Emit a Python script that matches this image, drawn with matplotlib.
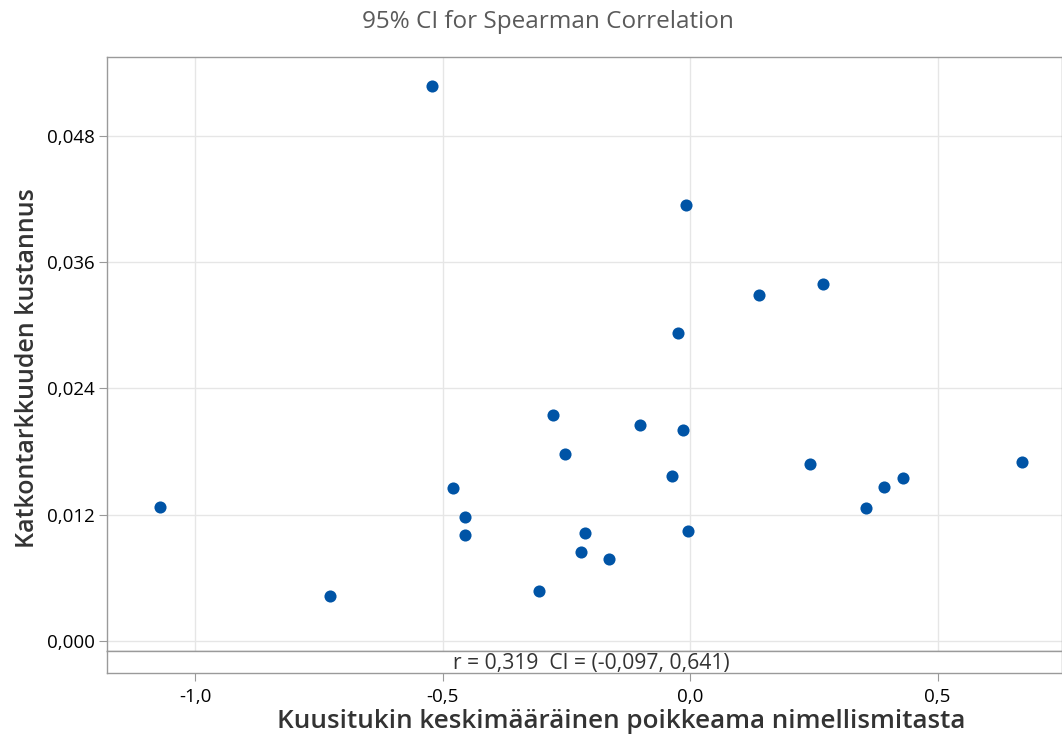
import numpy as np
import matplotlib
matplotlib.use('Agg')
import matplotlib.pyplot as plt
from matplotlib.ticker import FuncFormatter
from matplotlib.transforms import blended_transform_factory

plt.rcParams['font.family'] = ['Open Sans', 'DejaVu Sans']

# poikkeama (x) ja kustannus (y)
poikkeama = [-0.521, -0.008, 0.269, 0.139, -0.024, -0.277, -0.101, -0.014, -0.253,
             0.242, 0.671, -0.036, 0.430, 0.392, -0.479, 0.356, -1.071, -0.455,
             -0.455, -0.212, -0.004, -0.220, -0.164, -0.305, -0.727]
kustannus = [0.05275, 0.04144, 0.03393, 0.03289, 0.02927, 0.02148, 0.02053, 0.02006,
             0.01777, 0.01682, 0.01701, 0.01568, 0.01549, 0.01464, 0.01454, 0.01264,
             0.01274, 0.01179, 0.01008, 0.01027, 0.01046, 0.00846, 0.00779, 0.00475,
             0.00428]
xticks = [-1.0, -0.5, 0.0, 0.5]
yticks = [0.000, 0.012, 0.024, 0.036, 0.048]
footer = "r = 0,319  CI = (-0,097, 0,641)"

W, H = 1062, 738
fig = plt.figure(figsize=(W / 100, H / 100), dpi=100)

def fx(px):
    return px / W

def fy(py):
    return 1 - py / H

left, right, top, mid, bot = 107, 1062, 57, 651, 673
ax = fig.add_axes([fx(left), fy(mid), fx(right - left), fy(top) - fy(mid)])
axf = fig.add_axes([fx(left), fy(bot), fx(right - left), fy(mid) - fy(bot)], sharex=ax)

edge = '#9a9a9a'
for a in (ax, axf):
    for s in a.spines.values():
        s.set_color(edge)
        s.set_linewidth(1.0)

ax.scatter(poikkeama, kustannus, s=76, color='#0054a6', zorder=3, linewidths=0)
ax.set_xlim(-1.178, 0.7515)
ax.set_ylim(-0.00095, 0.0555)
ax.set_yticks(yticks)
ax.set_xticks(xticks)
ax.grid(True, color='#e6e6e6', linewidth=1.0, zorder=0)
ax.tick_params(axis='x', which='both', bottom=False, labelbottom=False)
ax.tick_params(axis='y', length=6, color=edge, labelsize=13.5, labelcolor='black', pad=3)
ax.yaxis.set_major_formatter(FuncFormatter(lambda v, p: f"{v:.3f}".replace('.', ',')))

axf.set_ylim(0, 1)
axf.set_yticks([])
axf.tick_params(axis='x', length=6, color=edge, labelsize=13.5, labelcolor='black', pad=5)
axf.xaxis.set_major_formatter(FuncFormatter(lambda v, p: f"{v:.1f}".replace('.', ',').replace('-0,0', '0,0')))
tr = blended_transform_factory(fig.transFigure, axf.transAxes)
axf.text(fx(591), 0.42, footer, transform=tr, fontsize=15.2, color='#333333',
         ha='center', va='center')

fig.text(fx(548), fy(22), "95% CI for Spearman Correlation", fontsize=17.5, color='#5a5a5a',
         ha='center', va='center')
fig.text(fx(621), fy(722), "Kuusitukin keskimääräinen poikkeama nimellismitasta", fontsize=18.7,
         color='#333333', ha='center', va='center', fontweight='semibold')
fig.text(fx(28), fy(368), "Katkontarkkuuden kustannus", fontsize=18, color='#333333',
         ha='center', va='center', rotation=90, fontweight='semibold')

fig.savefig('out.png', dpi=100)
